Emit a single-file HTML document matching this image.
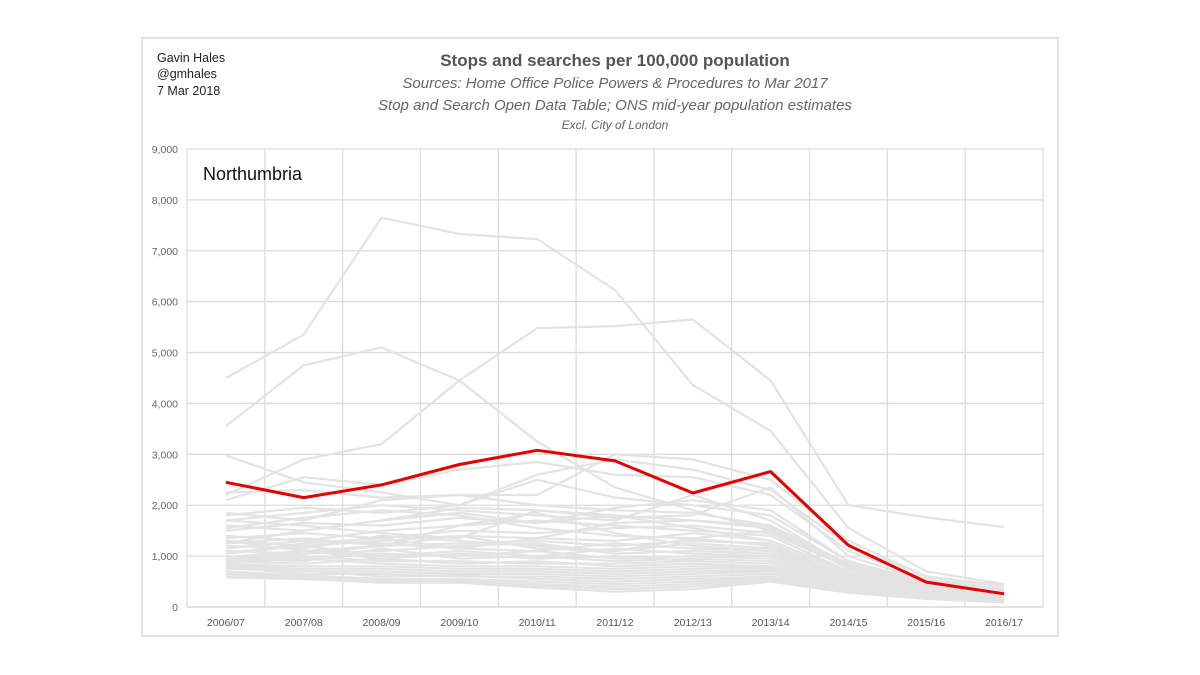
<!DOCTYPE html>
<html><head><meta charset="utf-8">
<style>
body{margin:0;background:#fff;font-family:"Liberation Sans",sans-serif;}
svg{display:block}
</style></head>
<body>
<svg id="chart" width="1200" height="675">
<rect x="142" y="38" width="916" height="598" fill="#fff" stroke="#d9d9d9" stroke-width="1.5"/>
<text x="157" y="62" font-size="12.5" fill="#222">Gavin Hales</text>
<text x="157" y="78" font-size="12.5" fill="#222">@gmhales</text>
<text x="157" y="95" font-size="12.5" fill="#222">7 Mar 2018</text>
<text x="615" y="66" font-size="17" font-weight="bold" fill="#555" text-anchor="middle">Stops and searches per 100,000 population</text>
<text x="615" y="88" font-size="15" font-style="italic" fill="#666" text-anchor="middle">Sources: Home Office Police Powers &amp; Procedures to Mar 2017</text>
<text x="615" y="110" font-size="15" font-style="italic" fill="#666" text-anchor="middle">Stop and Search Open Data Table; ONS mid-year population estimates</text>
<text x="615" y="129" font-size="12" font-style="italic" fill="#666" text-anchor="middle">Excl. City of London</text>
<g id="grid"></g>
<g id="greys"></g>
<g id="red"></g>
<g id="labels"></g>
<text x="203" y="180" font-size="18" fill="#111">Northumbria</text>
</svg>
<script>
const categories=["2006/07","2007/08","2008/09","2009/10","2010/11","2011/12","2012/13","2013/14","2014/15","2015/16","2016/17"];
const yTicks=[0,1000,2000,3000,4000,5000,6000,7000,8000,9000];
const northumbria=[2450,2150,2400,2800,3080,2870,2240,2660,1210,490,260];
const otherForces=[
[4500,5350,7650,7330,7230,6230,4360,3460,1550,700,450],
[3550,4750,5100,4450,3250,2350,1900,1500,800,480,300],
[2200,2900,3200,4450,5480,5520,5650,4450,2000,1760,1570],
[2980,2450,2250,2000,2600,2900,2700,2300,1200,600,420],
[2100,2550,2400,2700,2850,2600,2550,2200,1100,550,350],
[2250,2300,2150,2200,2200,3000,2900,2500,1300,600,400],
[1800,1950,1850,2000,2500,2150,2000,1800,900,500,320],
[1850,1700,2100,2200,2000,1900,1850,1600,850,450,300],
[1700,1850,2000,1900,1800,1700,2200,1700,800,420,280],
[1600,1500,1700,1950,1900,1750,1800,2350,1000,520,350],
[1500,1650,1600,1750,1650,1800,1700,1550,750,400,260],
[1400,1300,1500,1600,1700,1600,1500,1400,700,380,250],
[1350,1450,1350,1500,1450,1550,1600,1450,780,420,300],
[1300,1200,1300,1400,1350,1300,1450,1300,650,350,220],
[1250,1350,1200,1250,1300,1200,1300,1250,600,330,240],
[1200,1150,1400,1300,1200,1100,1250,1150,620,360,260],
[1150,1300,1250,1150,1100,1250,1150,1100,560,320,200],
[1100,1050,1100,1200,1250,1050,1100,1050,550,300,230],
[1050,1200,1000,1100,1000,1150,1050,1000,520,340,210],
[1000,950,1050,1000,1100,950,1000,950,500,290,190],
[980,1100,950,1050,950,1000,900,1200,540,310,220],
[950,900,1150,950,1000,900,950,900,480,280,200],
[920,1000,900,900,850,850,900,850,460,270,180],
[900,850,950,850,900,800,850,800,450,260,170],
[880,950,850,800,800,750,800,780,420,250,160],
[850,800,800,750,750,700,750,760,400,240,150],
[820,750,750,700,700,650,700,720,380,230,140],
[800,700,700,650,650,600,650,700,360,220,150],
[780,650,650,600,600,550,600,650,350,210,130],
[750,720,600,620,550,500,550,600,330,200,120],
[700,620,550,550,500,450,500,580,320,190,110],
[650,600,520,520,450,400,450,550,300,180,100],
[600,580,500,500,420,350,400,520,290,170,100],
[580,550,480,480,380,300,350,500,280,160,90],
[1700,1600,1450,1350,1900,1800,1550,1300,700,380,250],
[1550,1750,1900,1800,1550,1400,1350,1500,850,460,330],
[1250,1500,1700,1850,1650,1950,2100,1900,900,500,350],
[1300,1100,1200,1600,1850,1450,1200,1100,650,400,280],
[1050,1250,1350,1150,1350,1650,1700,1600,750,450,300],
[950,1050,1200,1400,1150,1100,1350,1200,600,380,260]
];
const L=187,R=1043,T=149,B=607,yMax=9000;
const step=(R-L)/categories.length;
const xs=i=>L+step*(i+0.5);
const ys=v=>B-(v/yMax)*(B-T);
const NS="http://www.w3.org/2000/svg";
const grid=document.getElementById('grid'),labels=document.getElementById('labels');
yTicks.forEach(t=>{
 const l=document.createElementNS(NS,'line');
 
 
 l.setAttribute('x1',L);l.setAttribute('x2',R);l.setAttribute('y1',ys(t));l.setAttribute('y2',ys(t));
 l.setAttribute('stroke',t===0?'#d0d0d0':'#dcdcdc');l.setAttribute('stroke-width','1.3');
 grid.appendChild(l);
 const tx=document.createElementNS(NS,'text');
 
 
 tx.setAttribute('x',178);tx.setAttribute('y',ys(t)+4);tx.setAttribute('text-anchor','end');
 tx.setAttribute('font-size','10.5');tx.setAttribute('fill','#666');
 tx.textContent=t.toLocaleString('en-GB');labels.appendChild(tx);
});
for(let i=0;i<=categories.length;i++){
 const l=document.createElementNS(NS,'line');
 
 
 l.setAttribute('x1',L+step*i);l.setAttribute('x2',L+step*i);l.setAttribute('y1',T);l.setAttribute('y2',B);
 l.setAttribute('stroke','#dcdcdc');l.setAttribute('stroke-width','1.3');grid.appendChild(l);
}
categories.forEach((c,i)=>{
 const tx=document.createElementNS(NS,'text');
 
 
 tx.setAttribute('x',xs(i));tx.setAttribute('y',626);tx.setAttribute('text-anchor','middle');
 tx.setAttribute('font-size','10.5');tx.setAttribute('fill','#555');
 tx.textContent=c;labels.appendChild(tx);
});
function pts(arr){return arr.map((v,i)=>xs(i).toFixed(1)+','+ys(v).toFixed(1)).join(' ');}
const greys=document.getElementById('greys');
otherForces.forEach(s=>{
 const p=document.createElementNS(NS,'polyline');
 
 
 p.setAttribute('points',pts(s));p.setAttribute('fill','none');
 p.setAttribute('stroke','#e3e3e3');p.setAttribute('stroke-width','2.2');p.setAttribute('stroke-linejoin','round');
 greys.appendChild(p);
});
const rp=document.createElementNS(NS,'polyline');


rp.setAttribute('points',pts(northumbria));rp.setAttribute('fill','none');
rp.setAttribute('stroke','#e30000');rp.setAttribute('stroke-width','3');rp.setAttribute('stroke-linejoin','round');
document.getElementById('red').appendChild(rp);
</script>
</body></html>
